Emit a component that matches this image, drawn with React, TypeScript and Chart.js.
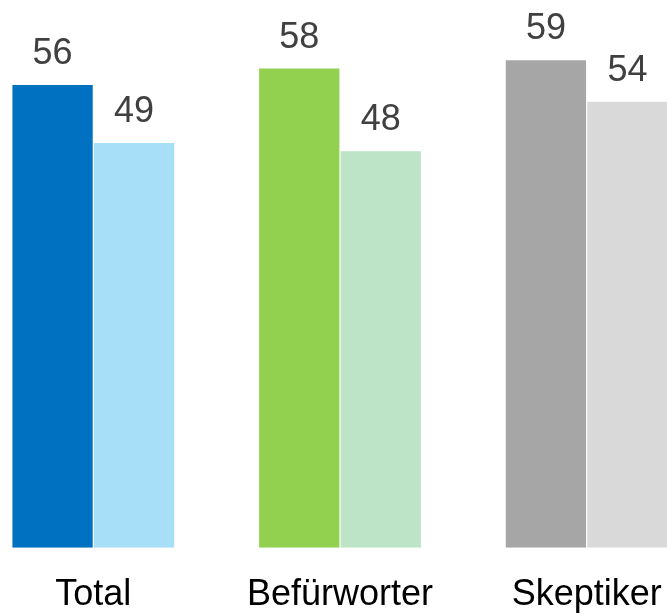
import React, { useEffect, useRef } from "react";
import { Chart, registerables } from "chart.js";

Chart.register(...registerables);

const categories = ["Total", "Befürworter", "Skeptiker"];
const seriesA = [56, 58, 59];
const seriesB = [49, 48, 54];
const colorsA = ["#0070C0", "#92D050", "#A6A6A6"];
const colorsB = ["#A7DEF8", "#BDE4C6", "#D9D9D9"];

const FONT_FAMILY = '"Liberation Sans", Arial, sans-serif';

const valueLabels = {
  id: "valueLabels",
  afterDatasetsDraw(chart: any) {
    const ctx = chart.ctx;
    ctx.save();
    ctx.font = `36px ${FONT_FAMILY}`;
    ctx.fillStyle = "#404040";
    ctx.textAlign = "center";
    ctx.textBaseline = "alphabetic";
    chart.data.datasets.forEach((ds: any, di: number) => {
      const meta = chart.getDatasetMeta(di);
      meta.data.forEach((el: any, i: number) => {
        ctx.fillText(String(ds.data[i]), el.x, el.y - 21);
      });
    });
    ctx.restore();
  },
};

export default function App() {
  const ref = useRef<HTMLCanvasElement>(null);
  useEffect(() => {
    if (!ref.current) return;
    const chart = new Chart(ref.current, {
      type: "bar",
      data: {
        labels: categories,
        datasets: [
          {
            data: seriesA,
            backgroundColor: colorsA,
            borderWidth: 0,
            categoryPercentage: 0.661,
            barPercentage: 0.985,
          },
          {
            data: seriesB,
            backgroundColor: colorsB,
            borderWidth: 0,
            categoryPercentage: 0.661,
            barPercentage: 0.985,
          },
        ],
      },
      options: {
        animation: false,
        responsive: true,
        maintainAspectRatio: false,
        layout: { padding: { left: 0, right: 0, top: 0, bottom: 0 } },
        plugins: {
          legend: { display: false },
          tooltip: { enabled: false },
        },
        scales: {
          y: {
            display: false,
            min: 0,
            max: 66.3,
          },
          x: {
            grid: { display: false, drawTicks: false },
            border: { display: false },
            ticks: {
              color: "#000000",
              padding: 26,
              font: { size: 36, family: FONT_FAMILY },
              maxRotation: 0,
              autoSkip: false,
            },
          },
        },
      },
      plugins: [valueLabels],
    });
    return () => chart.destroy();
  }, []);

  return (
    <div
      style={{
        position: "fixed",
        left: 0,
        top: 0,
        width: 667,
        height: 616,
        overflow: "hidden",
        background: "#ffffff",
      }}
    >
      <div style={{ position: "absolute", left: -30, top: 0, width: 740, height: 643 }}>
        <canvas ref={ref} />
      </div>
    </div>
  );
}
